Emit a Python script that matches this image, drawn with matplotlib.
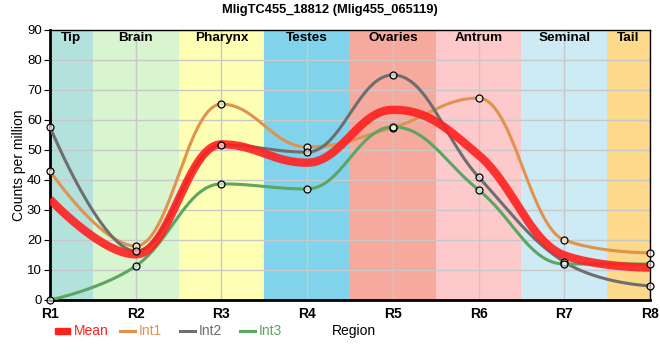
import numpy as np
import matplotlib
matplotlib.use("Agg")
import matplotlib.pyplot as plt
from matplotlib.lines import Line2D
from matplotlib.patches import Rectangle

plt.rcParams['font.family'] = ['Liberation Sans', 'DejaVu Sans']

title = "MligTC455_18812 (Mlig455_065119)"
regions = ["R1", "R2", "R3", "R4", "R5", "R6", "R7", "R8"]
int1 = [43, 18, 65.3, 51, 57.5, 67.3, 20, 15.7]
int2 = [57.7, 16.3, 51.7, 49.3, 75, 41, 12.7, 4.7]
int3 = [0, 11.3, 38.7, 37, 57.7, 36.7, 12, 12]
mean = list(np.mean([int1, int2, int3], axis=0))

bands = ["Tip", "Brain", "Pharynx", "Testes", "Ovaries", "Antrum", "Seminal", "Tail"]
band_colors = ["#b3e2dd", "#d8f5cf", "#ffffb4", "#80d3eb", "#f5aa9d", "#fdc9ca", "#ceeaf5", "#fdd98b"]

colors = {"Mean": "#ff2020", "Int1": "#e0924f", "Int2": "#6e6e6e", "Int3": "#5aa662"}


def spline(xs, ys, n=60):
    """Spline through points with horizontal-ish control points (smoothing 1.5)."""
    xs = np.asarray(xs, float); ys = np.asarray(ys, float)
    m = len(xs)
    lc = [(xs[i], ys[i]) for i in range(m)]
    rc = [(xs[i], ys[i]) for i in range(m)]
    sm = 1.5; den = sm + 1
    for i in range(1, m - 1):
        px, py = xs[i], ys[i]
        lx, ly = xs[i - 1], ys[i - 1]
        nx, ny = xs[i + 1], ys[i + 1]
        lcx = (sm * px + lx) / den; lcy = (sm * py + ly) / den
        rcx = (sm * px + nx) / den; rcy = (sm * py + ny) / den
        corr = (rcy - lcy) * (rcx - px) / (rcx - lcx) + py - rcy
        lcy += corr; rcy += corr
        if lcy > ly and lcy > py:
            lcy = max(ly, py); rcy = 2 * py - lcy
        elif lcy < ly and lcy < py:
            lcy = min(ly, py); rcy = 2 * py - lcy
        if rcy > ny and rcy > py:
            rcy = max(ny, py); lcy = 2 * py - rcy
        elif rcy < ny and rcy < py:
            rcy = min(ny, py); lcy = 2 * py - rcy
        lc[i] = (lcx, lcy); rc[i] = (rcx, rcy)
    ox, oy = [], []
    u = np.linspace(0, 1, n)[:, None]
    for i in range(m - 1):
        P = np.array([[xs[i], ys[i]], rc[i], lc[i + 1], [xs[i + 1], ys[i + 1]]])
        B = ((1 - u) ** 3) * P[0] + 3 * ((1 - u) ** 2) * u * P[1] + 3 * (1 - u) * u ** 2 * P[2] + u ** 3 * P[3]
        ox.extend(B[:, 0]); oy.extend(B[:, 1])
    return np.array(ox), np.array(oy)


fig = plt.figure(figsize=(6.6, 3.6), dpi=100)
ax = fig.add_axes([50 / 660, 60 / 360, 600 / 660, 270 / 360])
x = np.arange(len(regions))
last = len(regions) - 1

for i, (b, c) in enumerate(zip(bands, band_colors)):
    a0, a1 = max(i - 0.5, 0), min(i + 0.5, last)
    ax.axvspan(a0, a1, color=c, zorder=0, lw=0)
    ax.text((a0 + a1) / 2, 87.3, b, ha='center', va='center', fontsize=9.7,
            fontweight='bold', zorder=5)

ax.set_xlim(0, last)
ax.set_ylim(0, 90)
ax.set_yticks(range(0, 91, 10))
ax.set_xticks(x)
ax.set_xticklabels(regions, fontweight='bold')
ax.grid(True, color='#c8c8c8', lw=1, zorder=1)
for gl in ax.get_xgridlines() + ax.get_ygridlines():
    gl.set_zorder(1)

for name, vals in [("Int1", int1), ("Int2", int2), ("Int3", int3)]:
    sx, sy = spline(x, vals)
    ax.plot(sx, sy, color=colors[name], lw=2.2, zorder=3, solid_capstyle='butt')
sx, sy = spline(x, mean)
ax.plot(sx, sy, color=colors["Mean"], lw=6, alpha=0.9, zorder=4, solid_capstyle='butt')
for vals in (int1, int2, int3):
    ax.plot(x, vals, 'o', ms=5, mfc=(1, 1, 1, 0.6), mec='black', mew=0.9, zorder=6, clip_on=False)

ax.tick_params(axis='y', labelsize=9.5, length=4, color='black', pad=2)
ax.tick_params(axis='x', labelsize=10, length=0, pad=5)
for s in ['left', 'bottom']:
    ax.spines[s].set_linewidth(2)
for s in ['top', 'right']:
    ax.spines[s].set_linewidth(1)
ax.set_ylabel("Counts per million", fontsize=10)
ax.yaxis.set_label_coords(-24 / 600, 0.5)
fig.text(0.5, 1 - 10 / 360, title, ha='center', va='center', fontsize=9.3, fontweight='bold')

# legend (manual, figure pixel coordinates)
ly = 1 - 331 / 360
fig.patches.append(Rectangle((55 / 660, 1 - 334 / 360), 15 / 660, 6 / 360,
                             transform=fig.transFigure, color=colors["Mean"], figure=fig))
fig.text(74 / 660, ly, "Mean", color=colors["Mean"], fontsize=10, va='center', ha='left')
for name, x0 in [("Int1", 120), ("Int2", 180), ("Int3", 240)]:
    fig.add_artist(Line2D([x0 / 660, (x0 + 15) / 660], [ly, ly], transform=fig.transFigure,
                          color=colors[name], lw=2.2))
    fig.text((x0 + 19) / 660, ly, name, color=colors[name], fontsize=10, va='center', ha='left')
fig.text(332 / 660, ly, "Region", fontsize=10, va='center', ha='left')

fig.savefig("out.png", dpi=100)
